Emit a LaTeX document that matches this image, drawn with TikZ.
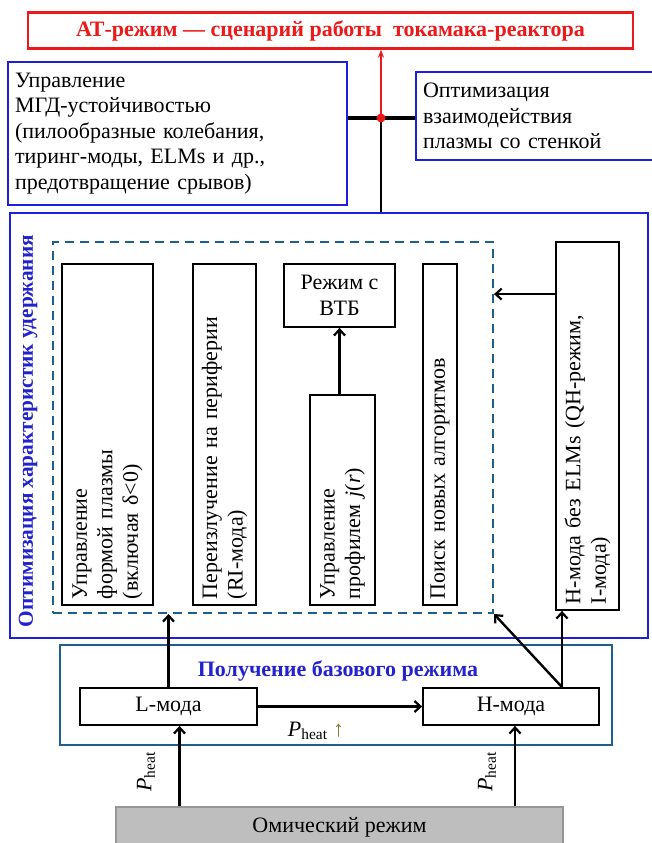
\documentclass[tikz,border=0pt]{standalone}
\usepackage{fontspec}
\setmainfont{Liberation Serif}
\usetikzlibrary{arrows.meta,calc}
\definecolor{bbox}{RGB}{30,30,225}
\definecolor{btext}{RGB}{35,35,205}
\definecolor{tealb}{RGB}{31,95,140}
\definecolor{redb}{RGB}{235,25,25}
\definecolor{grayfill}{RGB}{190,190,190}
\definecolor{grayline}{RGB}{150,150,150}
\definecolor{oliv}{RGB}{125,115,40}
\tikzset{
  txt/.style={font=\fontsize{22}{25.5}\selectfont},
  bluebox/.style={draw=bbox, line width=2.6pt, inner sep=0pt},
  blkbox/.style={draw=black, line width=1.8pt, txt},
  vbox/.style={blkbox, rotate=90, align=left, inner sep=6pt},
  arr/.style={line width=2.4pt, -{Straight Barb[length=6pt,width=11pt,line width=2.2pt]}},
}
\begin{document}
\begin{tikzpicture}[x=1pt,y=-1pt]
\useasboundingbox (0,0) rectangle (651,843);
% top
\node[draw=redb, line width=2.4pt, minimum width=605pt, minimum height=36pt, text=redb, font=\fontsize{22}{25}\selectfont\bfseries] (at) at (330.5,30.5) {АТ-режим — сценарий работы\ \ токамака-реактора};
\node[bluebox, minimum width=339pt, minimum height=143pt, txt, text width=325pt, align=left] (mgd) at (177.5,133.5) {Управление\\МГД-устойчивостью\\(пилообразные колебания,\\тиринг-моды, ELMs и др.,\\предотвращение срывов)};
\node[bluebox, minimum width=244pt, minimum height=88pt, txt, text width=230pt, align=left] (wall) at (538,116) {Оптимизация\\взаимодействия\\плазмы со стенкой};
% big box
\node[bluebox, minimum width=638pt, minimum height=425pt] (big) at (329,425.5) {};
\node[rotate=90, text=btext, font=\fontsize{21.3}{24}\selectfont\bfseries] (optlab) at (28,431) {Оптимизация характеристик удержания};
\node[draw=tealb, line width=2pt, dash pattern=on 9pt off 6pt, minimum width=440pt, minimum height=371pt] (dash) at (273,427.5) {};
\node[vbox, minimum width=341pt, minimum height=91pt, text width=329pt] (b1) at (107.5,434.5) {Управление\\формой плазмы\\(включая δ<0)};
\node[vbox, minimum width=341pt, minimum height=63pt, text width=329pt] (b2) at (224.5,434.5) {Переизлучение на периферии\\(RI-мода)};
\node[blkbox, minimum width=111pt, minimum height=63pt, align=center] (b3) at (339.5,295.5) {Режим с\\ВТБ};
\node[vbox, minimum width=210pt, minimum height=65pt, text width=198pt] (b4) at (342.5,500) {Управление\\профилем \textit{j}(\textit{r})};
\node[vbox, minimum width=341pt, minimum height=34pt, text width=329pt] (b5) at (440,434.5) {Поиск новых алгоритмов};
\node[vbox, minimum width=368pt, minimum height=63pt, text width=356pt] (b6) at (587.5,426) {H-мода без ELMs (QH-режим,\\I-мода)};
% lower box
\node[draw=tealb, line width=2pt, minimum width=552pt, minimum height=100pt] (base) at (336,695) {};
\node[text=btext, font=\fontsize{22}{25}\selectfont\bfseries] (basetitle) at (338,671) {Получение базового режима};
\node[blkbox, minimum width=177pt, minimum height=37pt] (L) at (168.5,706.5) {L-мода};
\node[blkbox, minimum width=176pt, minimum height=37pt] (H) at (511,706.5) {H-мода};
\node[txt] (pup) at (316,731) {\textit{P}\textsubscript{heat} \textcolor{oliv}{↑}};
\node[draw=grayline, fill=grayfill, line width=1.2pt, minimum width=447pt, minimum height=40pt, txt] (om) at (339.5,827) {Омический режим};
\node[txt, rotate=90] (pl) at (146,772) {\textit{P}\textsubscript{heat}};
\node[txt, rotate=90] (pr) at (487,772) {\textit{P}\textsubscript{heat}};
% top connectors
\coordinate (dot) at (381,118);
\draw[line width=3.2pt] (mgd.east |- dot) -- (wall.west |- dot);
\draw[line width=2.6pt] (dot) -- (dot |- big.north);
\draw[redb, line width=2pt, -{Stealth[length=8pt,width=6pt]}] (dot) -- (dot |- at.south);
\fill[redb] (dot) circle (4.5pt);
% inner connectors
\draw[arr] (b3.south |- b4.east) -- (b3.south);
\coordinate (p6) at ([yshift=-53pt]b6.north east);
\draw[arr] (p6) -- (p6 -| dash.east);
% lower connectors
\draw[arr] (L.north) -- (L.north |- dash.south);
\coordinate (hj) at ([xshift=51pt]H.north);
\draw[arr] (hj) -- (hj |- b6.west);
\draw[arr] (hj) -- (dash.south east);
\draw[arr] (L) -- (H);
\coordinate (lo) at ([xshift=11pt]L.south);
\coordinate (ho) at ([xshift=4pt]H.south);
\draw[arr] (lo |- om.north) -- (lo);
\draw[arr] (ho |- om.north) -- (ho);
\end{tikzpicture}
\end{document}
